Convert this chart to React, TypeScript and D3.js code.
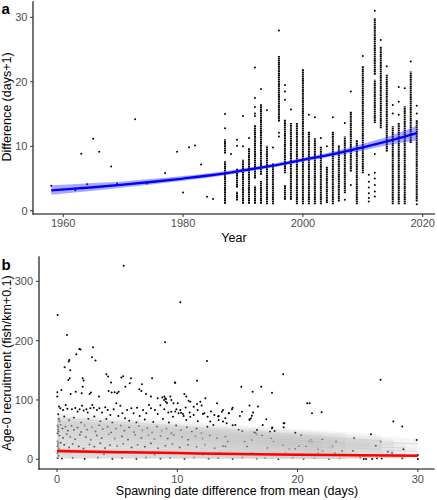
import React from "react";
import * as d3 from "d3";

const W = 437;
const H = 500;
const FONT = "Arial, 'Liberation Sans', Helvetica, sans-serif";

// ---------- Panel a: spawning-date difference by year ----------
const earlyYears = [1958, 1962, 1963, 1964, 1965, 1966, 1968, 1969, 1972, 1974, 1977, 1979, 1980, 1981, 1982, 1983, 1984, 1985, 1988];
const earlyValues = [3.88, 3.2, 8.84, 4.13, 11.16, 9.15, 6.87, 4.24, 14.2, 4.24, 5.84, 9.15, 2.84, 9.87, 10.13, 7.18, 2.17, 1.81, 8.8];

// dense columns of points: value ranges covered by stacked dots, plus isolated dots
const colYears = [1987, 1989, 1990, 1991, 1992, 1993, 1994, 1995, 1996, 1997, 1998, 1999, 2000, 2001, 2002, 2003, 2004, 2005, 2006, 2007, 2008, 2009, 2010, 2011, 2012, 2013, 2014, 2015, 2016, 2017, 2018, 2019];
const colRuns: number[][][] = [
  [[8.9, 11.1], [1.1, 7.7]],
  [[3.6, 6.6], [1.6, 3.0]],
  [[1.1, 7.9]],
  [[1.1, 9.7]],
  [[5.0, 13.3], [1.1, 3.9]],
  [[5.6, 16.6], [1.1, 4.6]],
  [[1.0, 10.1]],
  [[1.0, 7.4]],
  [[13.85, 24.0]],
  [[5.8, 14.2], [1.7, 4.0]],
  [[1.7, 13.6]],
  [[1.0, 13.6]],
  [[1.0, 22.0]],
  [[1.0, 12.3]],
  [[1.0, 11.3]],
  [[1.0, 10.0]],
  [[1.2, 6.9]],
  [[1.0, 12.3]],
  [[1.45, 10.2]],
  [[2.7, 11.5]],
  [[6.1, 15.4]],
  [[1.0, 11.0]],
  [[5.8, 22.4]],
  [],
  [[21.1, 29.9], [13.6, 20.3]],
  [[12.8, 25.5]],
  [[9.2, 21.1]],
  [[1.0, 13.1]],
  [[1.0, 13.6]],
  [[1.0, 16.2]],
  [[10.5, 21.6]],
  [[1.45, 14.1]],
];
const colSingles: number[][] = [
  [15.0, 12.8],
  [11.0, 10.1],
  [14.7, 10.0],
  [11.3],
  [22.2, 17.5, 16.1, 15.1, 14.7],
  [18.9],
  [15.6],
  [9.8],
  [27.96, 12.1, 11.5],
  [19.5, 18.5, 17.2],
  [15.7],
  [],
  [],
  [14.9],
  [14.5],
  [11.3],
  [10.0],
  [14.5],
  [],
  [13.6, 1.7],
  [18.5, 4.0],
  [],
  [24.0],
  [5.6, 4.5, 3.6, 2.7, 2.0, 1.45],
  [31.0, 8.8, 5.9, 5.0, 4.0, 3.0, 2.2],
  [26.5],
  [22.4],
  [16.4, 15.1],
  [19.2, 16.9, 14.9],
  [19.0],
  [23.15],
  [16.3, 15.1, 1.0],
];

const fitYears = [1958, 1965, 1970, 1975, 1980, 1985, 1990, 1995, 2000, 2005, 2010, 2015, 2019];
const fitValues = [3.15, 3.65, 4.05, 4.5, 5.0, 5.55, 6.25, 7.0, 7.9, 8.8, 9.85, 11.0, 12.05];
const fitLower = [2.5, 3.1, 3.6, 4.1, 4.65, 5.25, 5.95, 6.75, 7.6, 8.45, 9.35, 10.3, 10.9];
const fitUpper = [3.95, 4.3, 4.55, 4.95, 5.4, 5.9, 6.55, 7.3, 8.2, 9.15, 10.4, 11.75, 13.2];

const aTicksX = [1960, 1980, 2000, 2020];
const aTicksY = [0, 10, 20, 30];

// ---------- Panel b: recruitment vs spawning-date difference ----------
const recruitPoints: number[][] = [
  [5.54, 326.5], [0.05, 243.3], [10.25, 264.7], [0.83, 209.6], [8.98, 197.3], [12.47, 165.8], [1.85, 186], [1.95, 185],
  [2.99, 188.8], [2.9, 172], [3.2, 166.5], [1.6, 177], [1.02, 167.5], [0.97, 164.7], [0.63, 155], [1.1, 150], [4.1, 143.3], [18.8, 143.3],
  [4.24, 139.4], [5.35, 137.7], [5.5, 140], [6.15, 136.6], [6.04, 128.2], [7.9, 136.6], [7.06, 126.5], [9.8, 129.3], [4.49, 129.3],
  [2.13, 136.6], [2.21, 132.7], [1.05, 136.6], [0.94, 133.8], [0.02, 113], [0.02, 105.7], [0.36, 117], [1.13, 110.2], [1.55, 114],
  [2.13, 122.5], [2.05, 111.3], [2.71, 110.2], [2.82, 112.4], [3.49, 105.7], [4.29, 115.2], [4.54, 112.4], [4.79, 113], [5.0, 111.3],
  [5.12, 114], [5.68, 122.5], [6.84, 118], [7.01, 115.2], [7.4, 110.2], [7.81, 105.7], [8.37, 102.9], [8.75, 104], [8.92, 105.7],
  [9.06, 101.7], [9.42, 105.7], [9.5, 100], [10.58, 110.2], [10.75, 105.7], [10.94, 98.9], [9.83, 129.2], [11.64, 132.5], [15.32, 122.4],
  [16.98, 122.4], [16.26, 114], [17.87, 112.3], [26.9, 134.3], [12.33, 102.9],
  [8.9, 100], [9.05, 97], [9.15, 95], [9.0, 103], [11.08, 97.2], [11.64, 93.3], [11.91, 97.2], [11.36, 88.7], [9.69, 94.4], [13.3, 94.4],
  [20.8, 94.4], [21.0, 94.4], [14.6, 87], [16.0, 90.5], [16.7, 88.8], [0.16, 88.8], [0.27, 86], [0.72, 91.6], [2.93, 91.6], [4.93, 94.4],
  [7.64, 91.6], [10.03, 94.4], [9.92, 84.3], [6.65, 86.9], [3.05, 87.1], [5.26, 90.2], [8.59, 91.0], [10.69, 87.5], [12.02, 90.6],
  [0.5, 83.2], [0.86, 85], [1.24, 84.3], [1.52, 86.4], [1.71, 80.4], [1.88, 84.3], [2.08, 90.1], [2.21, 82.1], [2.44, 84.3], [2.55, 78.7],
  [2.77, 86], [3.32, 83.2], [3.52, 86], [3.74, 78.7], [4.01, 87.8], [4.21, 83.2], [4.43, 74.8], [4.71, 84.3], [5.43, 77.6], [5.65, 69.1],
  [5.82, 83.2], [6.18, 86], [6.37, 77.6], [6.87, 73.1], [7.15, 83.2], [7.42, 77.6], [7.81, 86], [8.14, 83.2], [8.37, 76.4], [8.92, 84.3],
  [9.25, 78.7], [9.64, 71.9], [9.83, 80.4], [10.25, 83.2], [10.47, 76.4], [11.03, 78.7], [11.36, 74.8], [11.69, 83.2], [12.25, 77.6],
  [12.52, 71.9], [12.8, 80.4], [13.08, 74.8], [13.44, 73.1], [10.1, 77.6], [9.5, 80.3], [10.31, 78.6], [10.53, 73], [10.75, 66.3],
  [11.08, 71.9], [12.13, 76.4], [12.74, 63.5], [13.44, 66.3], [13.71, 80.3], [13.99, 69.1], [14.27, 77.5], [14.54, 84.3], [15.38, 80.3],
  [16.01, 66.3], [16.12, 69.1], [17.4, 67.4], [18.84, 60.7], [13.8, 83.2], [14.3, 77.6], [16.3, 78.7], [16.2, 73.6], [15.2, 73], [16.0, 67.4],
  [18.9, 60.7], [21.2, 77.6], [22.0, 79.2], [27.96, 63.5], [13.4, 72], [13.8, 63.5], [14.1, 60.7], [0.1, 76], [0.15, 68], [0.2, 64],
  [0.6, 72], [1.0, 66], [1.4, 70], [2.0, 62], [2.6, 68], [3.1, 72], [3.6, 64], [4.1, 68], [4.6, 62], [5.1, 73], [6.0, 65], [6.6, 62],
  [7.3, 67], [8.0, 63], [8.8, 68], [9.3, 62], [11.7, 64],
  [0.05, 57], [0.1, 54], [0.08, 50], [0.12, 47], [0.05, 44], [0.3, 58], [0.45, 52], [0.7, 55], [0.9, 48], [1.2, 56], [1.4, 50], [1.7, 53],
  [2.0, 46], [2.3, 57], [2.5, 50], [2.9, 54], [3.2, 47], [3.5, 58], [3.8, 51], [4.2, 55], [4.5, 45], [4.9, 52], [5.3, 57], [5.6, 48],
  [6.0, 54], [6.4, 46], [6.8, 56], [7.1, 49], [7.5, 53], [7.9, 45], [8.3, 55], [8.7, 48], [9.1, 52], [9.5, 44], [9.9, 57], [10.3, 50],
  [10.8, 54], [11.2, 46], [11.6, 52], [12.0, 44], [12.5, 55], [13.0, 57.8], [14.6, 57.3], [14.82, 57.8], [15.1, 49.5], [15.4, 47.8],
  [16.5, 43.8], [16.6, 42.1], [16.4, 45.5], [16.62, 49.4], [17.04, 41], [17.1, 57.9], [17.9, 53.4], [17.7, 46.6], [17.87, 52.2],
  [18.09, 47.7], [18.84, 53.9], [19.81, 44.9], [20.3, 40.5], [22.06, 34.3], [24.7, 35.4], [26.1, 42.1], [28.7, 55.1], [29.9, 32.6],
  [0.2, 40], [0.5, 36], [0.8, 42], [1.1, 38], [1.5, 34], [1.9, 41], [2.4, 37], [2.8, 33], [3.3, 40], [3.7, 36], [4.3, 42], [4.8, 35],
  [5.4, 39], [5.9, 33], [6.5, 41], [7.0, 36], [7.6, 40], [8.1, 34], [8.6, 39], [9.2, 35], [9.7, 41], [10.4, 37], [10.9, 33], [11.5, 39],
  [12.1, 35], [12.7, 40], [13.3, 36], [14.0, 38], [21.1, 32.6], [20.95, 29.8], [23.2, 29.8], [26.9, 29.8], [18.0, 29.8], [17.8, 35.4],
  [16.2, 32.6], [15.6, 29.8], [14.2, 29.8], [21.2, 28.7],
  [0.05, 30], [0.1, 26], [0.05, 22], [0.15, 18], [0.08, 14], [0.05, 10], [0.12, 6], [0.05, 2], [0.3, 28], [0.6, 24], [1.0, 20], [1.3, 26],
  [1.8, 22], [2.2, 18], [2.7, 25], [3.1, 21], [3.6, 27], [4.0, 19], [4.4, 24], [5.0, 22], [5.5, 26], [6.2, 20], [6.7, 24], [7.3, 21],
  [7.8, 27], [8.4, 19], [9.0, 23], [9.6, 26], [10.2, 20], [10.9, 24], [11.6, 21], [12.3, 25], [13.1, 19], [13.8, 22], [14.0, 21.4],
  [15.8, 21.4], [17.5, 18.6], [18.8, 24.2], [19.3, 16.9], [19.8, 17.5], [20.1, 22.5], [20.7, 21.4], [21.7, 16.9], [22.1, 14.1],
  [22.9, 21.4], [23.7, 14.1], [24.6, 14.1], [25.5, 6.2], [26.5, 22.5], [27.5, 12.9], [27.85, 11.2], [28.8, 16.9], [30.0, 7.3], [30.0, 0.5],
  [28.7, 1.7], [25.2, 2.8], [25.5, 0.3], [25.7, 0.6], [26.2, 0.6], [26.6, 1.7], [27.0, 1.1], [13.5, 11.2], [16.2, 10], [17.6, 9], [19.0, 10.5],
  [20.3, 9], [21.7, 10], [23.1, 10], [0.4, 1.2], [1.3, 2.5], [2.3, 0.8], [3.4, 3.1], [4.6, 1.0], [5.4, 2.2], [6.6, 0.7], [7.4, 3.0],
  [8.6, 1.4], [9.4, 2.4], [10.6, 0.9], [11.4, 3.2], [12.6, 1.1], [13.4, 2.0], [14.6, 0.8], [15.4, 2.9], [16.6, 1.2], [17.3, 2.3],
  [18.4, 0.6], [19.6, 2.7], [20.5, 1.0], [21.4, 2.1], [22.6, 0.7], [23.5, 1.8], [3.9, 8.5], [6.1, 12], [8.1, 7.5], [10.1, 11], [12.1, 8]
];

// per-site fitted lines (grey)
const siteStartY = [70, 66, 63, 60, 57, 54, 51, 48, 45, 42, 39, 36, 33, 30, 27, 24, 21, 18, 16, 14, 12, 10, 8, 6, 4, 2.5];
const siteEndX = [27, 24, 30, 22, 28, 23, 26, 22, 29, 24, 27, 22, 30, 23, 28, 25, 22, 29, 24, 30, 23, 26, 22, 29, 25, 24];
const siteEndY = [31.1, 32.1, 25.6, 31.0, 24.6, 27.1, 23.4, 24.8, 18.9, 20.4, 17.4, 18.6, 13.4, 15.1, 11.7, 11.3, 10.9, 7.5, 7.8, 5.7, 6.0, 4.6, 4.1, 2.5, 1.9, 1.2];

// overall fit (red)
const redX = [0, 5, 10, 15, 20, 25, 30];
const redY = [14, 12, 10.4, 9.0, 7.8, 6.7, 5.8];
const redLo = [10.5, 9.6, 8.6, 7.4, 6.2, 4.9, 3.6];
const redHi = [17.5, 14.4, 12.2, 10.6, 9.4, 8.5, 8.0];

const bTicksX = [0, 10, 20, 30];
const bTicksY = [0, 100, 200, 300];

const TICK_COLOR = "#4d4d4d";

export default function App() {
  // scales panel a
  const xa = d3.scaleLinear().domain([1954.95, 2022.05]).range([33, 435]);
  const ya = d3.scaleLinear().domain([-0.5, 32.5]).range([214, 1.2]);
  // scales panel b
  const xb = d3.scaleLinear().domain([-1.5, 31.4]).range([39, 434.7]);
  const yb = d3.scaleLinear().domain([-16.4, 342.3]).range([469, 256.3]);

  const fitIdx = fitYears.map((_, i) => i);
  const aLine = d3.line<number>().x((i) => xa(fitYears[i])).y((i) => ya(fitValues[i])).curve(d3.curveMonotoneX);
  const aArea = d3
    .area<number>()
    .x((i) => xa(fitYears[i]))
    .y0((i) => ya(fitLower[i]))
    .y1((i) => ya(fitUpper[i]))
    .curve(d3.curveMonotoneX);

  const redIdx = redX.map((_, i) => i);
  const rLine = d3.line<number>().x((i) => xb(redX[i])).y((i) => yb(redY[i])).curve(d3.curveMonotoneX);
  const rArea = d3
    .area<number>()
    .x((i) => xb(redX[i]))
    .y0((i) => yb(redLo[i]))
    .y1((i) => yb(redHi[i]))
    .curve(d3.curveMonotoneX);

  const siteArea = (k: number) => {
    const s = siteStartY[k];
    const e = siteEndY[k];
    const ex = siteEndX[k];
    const pts = [
      { x: 0, lo: s * 0.88 - 0.5, hi: s * 1.1 + 0.5 },
      { x: ex, lo: Math.max(e * 0.7 - 1, -1), hi: e * 1.3 + 1.5 },
    ];
    return d3
      .area<{ x: number; lo: number; hi: number }>()
      .x((d) => xb(d.x))
      .y0((d) => yb(d.lo))
      .y1((d) => yb(d.hi))(pts) as string;
  };

  return (
    <svg
      width={W}
      height={H}
      viewBox={`0 0 ${W} ${H}`}
      style={{ position: "absolute", left: 0, top: 0, background: "#fff", fontFamily: FONT }}
    >
      <rect x={0} y={0} width={W} height={H} fill="#fff" />
      {/* ================= Panel a ================= */}
      <g>
        {earlyYears.map((yr, i) => (
          <circle key={"e" + i} cx={xa(yr)} cy={ya(earlyValues[i])} r={1} fill="#000" />
        ))}
        {colYears.map((yr, i) => (
          <g key={"c" + i}>
            {colRuns[i].map((r, j) => (
              <line
                key={j}
                x1={xa(yr)}
                x2={xa(yr)}
                y1={ya(r[0])}
                y2={ya(r[1])}
                stroke="#000"
                strokeWidth={2}
                strokeDasharray="1.7 0.45"
              />
            ))}
            {colSingles[i].map((v, j) => (
              <circle key={"s" + j} cx={xa(yr)} cy={ya(v)} r={1} fill="#000" />
            ))}
          </g>
        ))}
        <path d={aArea(fitIdx) as string} fill="#3333ff" fillOpacity={0.42} />
        <path d={aLine(fitIdx) as string} fill="none" stroke="#0000ff" strokeWidth={2.3} />

        {/* axes */}
        <line x1={33} x2={33} y1={1.2} y2={214.5} stroke="#000" strokeWidth={1.1} />
        <line x1={32.5} x2={435} y1={214} y2={214} stroke="#000" strokeWidth={1.1} />
        {aTicksY.map((t) => (
          <g key={"ay" + t}>
            <line x1={30} x2={33} y1={ya(t)} y2={ya(t)} stroke="#333" strokeWidth={1} />
            <text x={27.5} y={ya(t)} dy="0.35em" textAnchor="end" fontSize={11} fill={TICK_COLOR}>
              {t}
            </text>
          </g>
        ))}
        {aTicksX.map((t) => (
          <g key={"ax" + t}>
            <line x1={xa(t)} x2={xa(t)} y1={214} y2={217} stroke="#333" strokeWidth={1} />
            <text x={xa(t)} y={227} textAnchor="middle" fontSize={11} fill={TICK_COLOR}>
              {t}
            </text>
          </g>
        ))}
        <text x={234} y={242} textAnchor="middle" fontSize={12.5} fill="#000">
          Year
        </text>
        <text
          transform={`translate(11,107) rotate(-90)`}
          textAnchor="middle"
          fontSize={12.5}
          fill="#000"
        >
          Difference (days+1)
        </text>
        <text x={1.5} y={14} fontSize={15} fontWeight="bold" fill="#000">
          a
        </text>
      </g>

      {/* ================= Panel b ================= */}
      <g>
        {recruitPoints.map((p, i) => (
          <circle key={"p" + i} cx={xb(p[0])} cy={yb(p[1])} r={1} fill="#000" />
        ))}
        {siteStartY.map((_, k) => (
          <path key={"sa" + k} d={siteArea(k)} fill="#a0a0a0" fillOpacity={0.1} />
        ))}
        {siteStartY.map((s, k) => (
          <line
            key={"sl" + k}
            x1={xb(0)}
            x2={xb(siteEndX[k])}
            y1={yb(s)}
            y2={yb(siteEndY[k])}
            stroke="#cfcfcf"
            strokeWidth={0.7}
          />
        ))}
        <path d={rArea(redIdx) as string} fill="#ff0000" fillOpacity={0.2} />
        <path d={rLine(redIdx) as string} fill="none" stroke="#ff0000" strokeWidth={2.5} />

        {/* axes */}
        <line x1={39} x2={39} y1={256.3} y2={469.5} stroke="#000" strokeWidth={1.1} />
        <line x1={38.5} x2={434.7} y1={469} y2={469} stroke="#000" strokeWidth={1.1} />
        {bTicksY.map((t) => (
          <g key={"by" + t}>
            <line x1={36} x2={39} y1={yb(t)} y2={yb(t)} stroke="#333" strokeWidth={1} />
            <text x={33} y={yb(t)} dy="0.35em" textAnchor="end" fontSize={11} fill={TICK_COLOR}>
              {t}
            </text>
          </g>
        ))}
        {bTicksX.map((t) => (
          <g key={"bx" + t}>
            <line x1={xb(t)} x2={xb(t)} y1={469} y2={472} stroke="#333" strokeWidth={1} />
            <text x={xb(t)} y={483} textAnchor="middle" fontSize={11} fill={TICK_COLOR}>
              {t}
            </text>
          </g>
        ))}
        <text x={237} y={495} textAnchor="middle" fontSize={12.5} fill="#000">
          Spawning date difference from mean (days)
        </text>
        <text
          transform={`translate(11,363) rotate(-90)`}
          textAnchor="middle"
          fontSize={12.5}
          fill="#000"
        >
          Age-0 recruitment (fish/km+0.1)
        </text>
        <text x={1.5} y={269.5} fontSize={15} fontWeight="bold" fill="#000">
          b
        </text>
      </g>
    </svg>
  );
}
